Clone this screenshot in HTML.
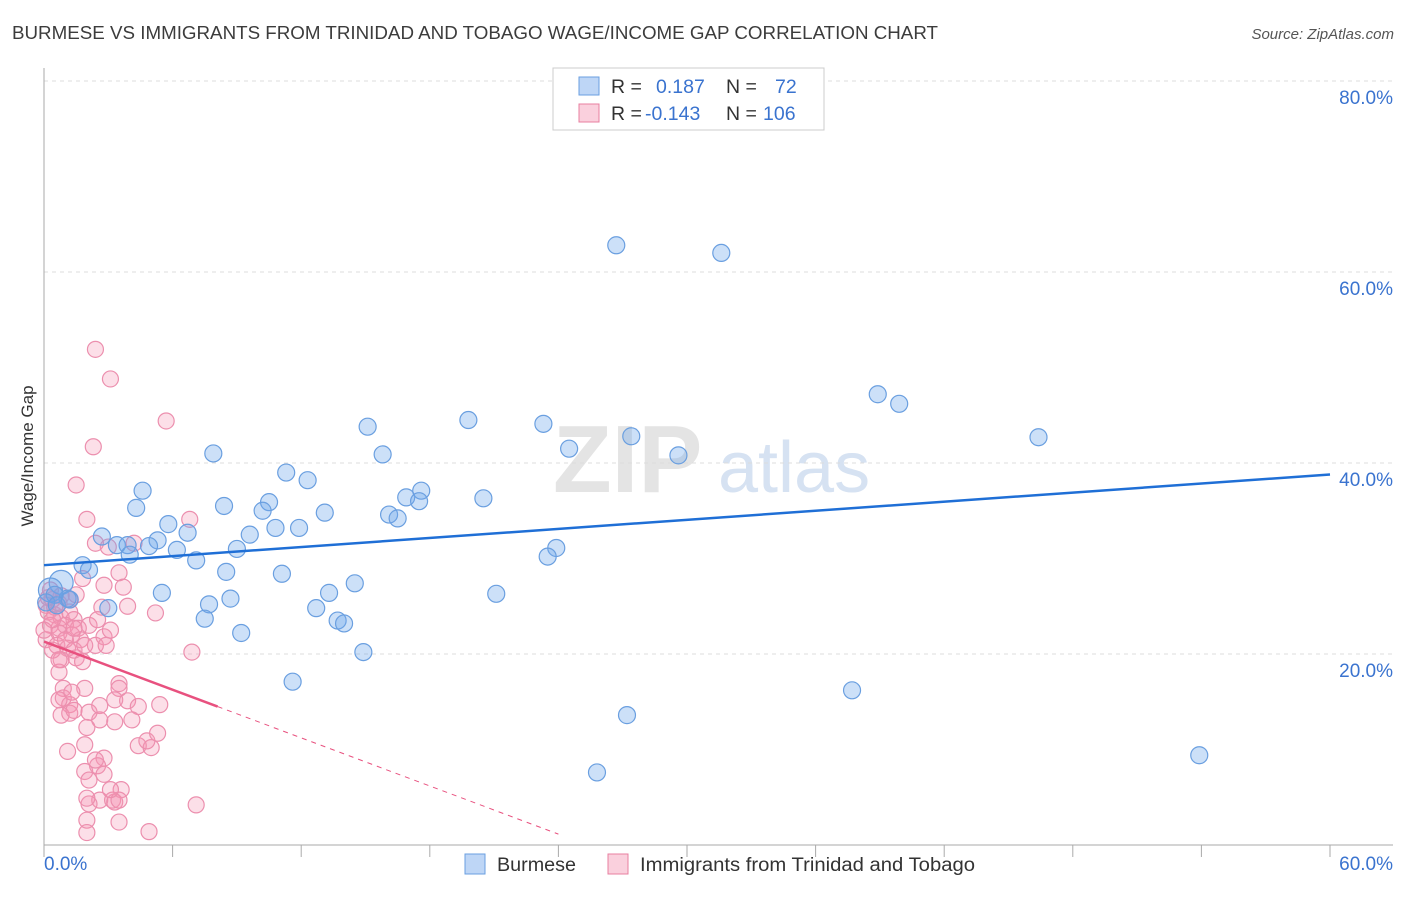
<!DOCTYPE html>
<html><head><meta charset="utf-8"><style>
body{margin:0;background:#fff;font-family:"Liberation Sans",sans-serif;}
svg text{font-family:"Liberation Sans",sans-serif;}
</style></head><body>
<svg id="chart" width="1406" height="892" viewBox="0 0 1406 892" xmlns="http://www.w3.org/2000/svg">
<text x="12" y="39" font-size="18" fill="#3c3c3c" textLength="926" lengthAdjust="spacingAndGlyphs">BURMESE VS IMMIGRANTS FROM TRINIDAD AND TOBAGO WAGE/INCOME GAP CORRELATION CHART</text>
<text x="1394" y="39" font-size="15" fill="#555" text-anchor="end" font-style="italic">Source: ZipAtlas.com</text>
<g>
<text x="553" y="492" font-size="96" fill="#e4e4e4" font-family="Liberation Serif" font-weight="bold">ZIP</text>
<text x="718" y="492" font-size="72" fill="#d6e2f2">atlas</text>
</g>
<g id="grid"></g>
<g id="axes"></g>
<g id="pts"></g>
<g id="trend"></g>
<text transform="translate(33,456) rotate(-90)" font-size="17" fill="#333" text-anchor="middle">Wage/Income Gap</text>
<g>
<rect x="553" y="68" width="271" height="62" fill="#fff" stroke="#ccc"/>
<rect x="579" y="77" width="20" height="18" fill="rgba(110,165,235,0.45)" stroke="#6a9fe0"/>
<rect x="579" y="104" width="20" height="18" fill="rgba(245,150,180,0.45)" stroke="#e87fa0"/>
<text x="611" y="93" font-size="19.5" fill="#333">R =</text>
<text x="656" y="93" font-size="19.5" fill="#3a73cf">0.187</text>
<text x="726" y="93" font-size="19.5" fill="#333">N =</text>
<text x="775" y="93" font-size="19.5" fill="#3a73cf">72</text>
<text x="611" y="120" font-size="19.5" fill="#333">R =</text>
<text x="645" y="120" font-size="19.5" fill="#3a73cf">-0.143</text>
<text x="726" y="120" font-size="19.5" fill="#333">N =</text>
<text x="763" y="120" font-size="19.5" fill="#3a73cf">106</text>
</g>
<g>
<rect x="465" y="854" width="20" height="20" fill="rgba(110,165,235,0.45)" stroke="#6a9fe0"/>
<text x="497" y="871" font-size="19" fill="#333" textLength="79" lengthAdjust="spacingAndGlyphs">Burmese</text>
<rect x="608" y="854" width="20" height="20" fill="rgba(245,150,180,0.45)" stroke="#e87fa0"/>
<text x="640" y="871" font-size="19" fill="#333" textLength="335" lengthAdjust="spacingAndGlyphs">Immigrants from Trinidad and Tobago</text>
</g>
</svg>
<script>
const blueX=[26.7,31.6,38.9,39.9,46.4,19.8,23.3,15.1,27.4,24.5,29.6,7.9,15.8,11.3,12.3,4.6,20.5,16.9,17.6,17.5,10.5,8.4,4.3,10.2,13.1,16.1,16.5,5.8,10.8,11.9,9.6,2.7,6.7,5.3,3.4,3.9,4.9,9.0,6.2,23.9,23.5,4.0,7.1,1.8,2.1,0.8,8.5,11.1,14.5,0.3,5.5,13.3,21.1,1.1,8.7,7.7,12.7,3.0,7.5,13.7,14.0,9.2,14.9,11.6,37.7,27.2,25.8,53.9,0.5,0.1,0.6,1.2];
const blueY=[62.8,62.0,47.2,46.2,42.7,44.5,44.1,43.8,42.8,41.5,40.8,41.0,40.9,39.0,38.2,37.1,36.3,36.4,37.1,36.0,35.9,35.5,35.3,35.0,34.8,34.6,34.2,33.6,33.2,33.2,32.5,32.3,32.7,31.9,31.4,31.4,31.3,31.0,30.9,31.1,30.2,30.4,29.8,29.3,28.8,27.5,28.6,28.4,27.4,26.7,26.4,26.4,26.3,25.8,25.8,25.2,24.8,24.8,23.7,23.5,23.2,22.2,20.2,17.1,16.2,13.6,7.6,9.4,26.2,25.4,25.1,25.7];
const pinkX=[2.4,3.1,5.7,2.3,1.5,2.0,6.8,2.4,4.2,3.0,3.5,2.8,3.7,1.8,1.5,0.4,0.1,2.7,3.9,5.2,0.2,0.5,0.8,1.2,1.4,0.3,0.7,1.0,1.6,2.1,2.8,0.7,1.3,1.7,0.1,0.6,1.1,2.4,2.9,6.9,0.8,1.5,1.8,0.7,3.5,3.5,0.9,1.9,0.9,1.2,1.2,0.8,1.4,2.1,2.6,3.9,4.4,5.4,2.6,2.0,3.3,1.9,4.4,5.0,4.8,5.3,1.1,2.8,1.9,2.5,2.8,2.1,3.6,2.6,3.2,3.3,3.5,7.1,2.1,3.5,2.0,4.9,2.0,0.5,0.7,0.2,0.4,1.0,1.4,0.0,0.4,0.7,0.3,2.5,3.1,1.2,0.8,1.9,1.4,0.7,1.3,3.1,2.0,2.4,4.1,3.3];
const pinkY=[51.9,48.8,44.4,41.7,37.7,34.1,34.1,31.6,31.6,31.2,28.5,27.2,27.0,27.9,26.2,25.7,25.1,24.9,25.0,24.3,24.4,24.1,23.8,24.4,23.6,23.0,22.7,23.0,22.7,23.0,21.8,22.2,22.0,21.5,21.5,20.9,20.6,20.9,20.9,20.2,19.4,19.6,19.2,18.1,16.9,16.4,16.4,16.4,15.4,14.7,13.8,13.6,14.1,13.9,14.6,15.1,14.5,14.7,13.1,12.3,12.9,10.5,10.4,10.2,10.9,11.7,9.8,9.1,7.7,8.3,7.4,6.8,5.8,4.7,4.7,4.5,4.7,4.2,4.3,2.4,2.6,1.4,1.3,24.9,25.3,25.9,23.6,21.5,20.4,22.5,20.4,19.4,26.7,23.6,22.5,25.7,26.1,20.9,22.7,15.2,16.0,5.8,4.9,8.9,13.1,15.2];
const blueTrend=[29.3,38.8];
const pinkTrend=[21.3,-0.84];
const xTicks=[0,6,12,18,24,30,36,42,48,54,60];
const yTicks=[20,40,60,80];
const X0=44,X1=1330,Y0=845,Y1=81;
const sx=v=>X0+(v/60)*(X1-X0);
const sy=v=>Y0-(v/80)*(Y0-Y1);
const NS="http://www.w3.org/2000/svg";
function mk(tag,attrs,parent){const e=document.createElementNS(NS,tag);for(const k in attrs)e.setAttribute(k,attrs[k]);document.getElementById(parent).appendChild(e);return e;}
yTicks.forEach(t=>{
 const g=mk('line',{x1:X0,x2:1393,y1:sy(t),y2:sy(t),stroke:'#dcdcdc','stroke-dasharray':'4,4'},'grid');
 
 
 const l=mk('text',{x:1393,y:sy(t)+23,'font-size':19,fill:'#3a73cf','text-anchor':'end'},'grid');
 l.textContent=t.toFixed(1)+'%';
 
 
});
const ax=mk('line',{x1:X0,x2:X0,y1:68,y2:Y0,stroke:'#aaa'},'axes');


const bx=mk('line',{x1:X0,x2:1393,y1:Y0,y2:Y0,stroke:'#aaa'},'axes');


xTicks.forEach(t=>{
 const tk=mk('line',{x1:sx(t),x2:sx(t),y1:Y0,y2:Y0+12,stroke:'#aaa'},'axes');
 
 
});
[[0,'start'],[60,'end']].forEach(([t,a])=>{
 const l=mk('text',{x:t===0?44:1393,y:870,'font-size':19,fill:'#3a73cf','text-anchor':a},'axes');
 l.textContent=t.toFixed(1)+'%';
 
 
});
pinkX.forEach((v,i)=>{
 const c=mk('circle',{cx:sx(v),cy:sy(pinkY[i]),r:8,fill:'rgba(245,150,180,0.3)',stroke:'#ec8fae','stroke-width':1.2},'pts');
 
 
});
blueX.forEach((v,i)=>{
 const big=(i===45||i===49);
 const c=mk('circle',{cx:sx(v),cy:sy(blueY[i]),r:big?12:8.5,fill:'rgba(110,165,235,0.35)',stroke:'#6a9fe0','stroke-width':1.2},'pts');
 
 
});
const bl=mk('line',{x1:sx(0),y1:sy(blueTrend[0]),x2:sx(60),y2:sy(blueTrend[1]),stroke:'#1f6fd6','stroke-width':2.5},'trend');


const pf=x=>pinkTrend[0]+pinkTrend[1]*x;
const pl=mk('line',{x1:sx(0),y1:sy(pf(0)),x2:sx(8.1),y2:sy(pf(8.1)),stroke:'#e8517f','stroke-width':2.5},'trend');


const pd=mk('line',{x1:sx(8.1),y1:sy(pf(8.1)),x2:sx(24),y2:sy(pf(24)),stroke:'#e8517f','stroke-width':1,'stroke-dasharray':'5,5'},'trend');


</script>
</body></html>
